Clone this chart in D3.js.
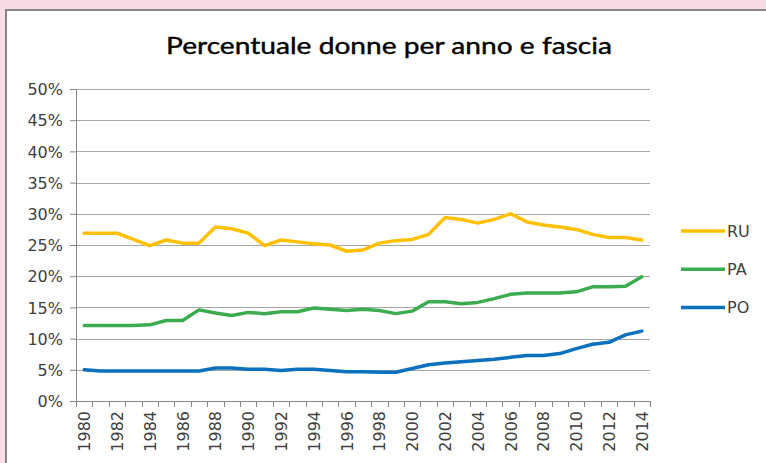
<!DOCTYPE html>
<html>
<head>
<meta charset="utf-8">
<script src="https://cdn.jsdelivr.net/npm/d3@7"></script>
<style>
  body { margin: 0; background: #fadce6; }
  svg { display: block; }
  .tick-label { font-family: "DejaVu Sans", Verdana, sans-serif; font-size: 15px; fill: #404040; }
</style>
</head>
<body>
<div id="chart"></div>
<script>
var years = d3.range(1980, 2015);
var tickYears = years.filter(function(y) { return y % 2 === 0; });
var yTicks = [0, 5, 10, 15, 20, 25, 30, 35, 40, 45, 50];

var seriesNames = ["RU", "PA", "PO"];
var seriesColors = ["#ffc000", "#3dab4f", "#0b70bd"];

var ru = [26.9, 26.9, 26.9, 25.9, 24.9, 25.8, 25.3, 25.3, 27.9, 27.6,
          26.9, 24.9, 25.8, 25.5, 25.2, 25.0, 24.0, 24.2, 25.3, 25.7,
          25.9, 26.7, 29.4, 29.1, 28.5, 29.1, 30.0, 28.7, 28.2, 27.9,
          27.5, 26.7, 26.2, 26.2, 25.8];
var pa = [12.1, 12.1, 12.1, 12.1, 12.2, 12.9, 12.9, 14.6, 14.1, 13.7,
          14.2, 14.0, 14.3, 14.3, 14.9, 14.7, 14.5, 14.7, 14.5, 14.0,
          14.4, 15.9, 15.9, 15.6, 15.8, 16.4, 17.1, 17.3, 17.3, 17.3,
          17.5, 18.3, 18.3, 18.4, 19.9];
var po = [5.0, 4.8, 4.8, 4.8, 4.8, 4.8, 4.8, 4.8, 5.3, 5.3,
          5.1, 5.1, 4.9, 5.1, 5.1, 4.9, 4.7, 4.7, 4.6, 4.6,
          5.2, 5.8, 6.1, 6.3, 6.5, 6.7, 7.0, 7.3, 7.3, 7.6,
          8.4, 9.1, 9.4, 10.6, 11.2];
var seriesValues = [ru, pa, po];

var width = 766, height = 463;
var margins = { top: 89, right: 116, bottom: 62, left: 76 };

var svg = d3.select("#chart").append("svg")
  .attr("width", width)
  .attr("height", height);

// chart frame (pink page behind, white chart area with gray border on top/left)
svg.append("rect").attr("x", 0).attr("y", 0).attr("width", width).attr("height", height).attr("fill", "#fadce6");
svg.append("rect").attr("x", 6).attr("y", 10).attr("width", width).attr("height", height)
  .attr("fill", "#fff").attr("stroke", "#868686").attr("stroke-width", 2);

svg.append("text")
  .attr("x", 389)
  .attr("y", 54)
  .attr("text-anchor", "middle")
  .attr("textLength", 446)
  .attr("lengthAdjust", "spacingAndGlyphs")
  .style("font-family", "Lato, 'Open Sans', sans-serif")
  .style("font-size", "24px")
  .style("font-weight", 400)
  .style("stroke", "#000")
  .style("stroke-width", 0.4)
  .style("fill", "#000")
  .text("Percentuale donne per anno e fascia");

var plotW = width - margins.left - margins.right;
var plotH = height - margins.top - margins.bottom;

var g = svg.append("g").attr("transform", "translate(" + margins.left + "," + margins.top + ")");

var x = d3.scaleBand().domain(years).range([0, plotW]);
var y = d3.scaleLinear().domain([0, 50]).range([plotH, 0]);

// gridlines
g.selectAll(".grid")
  .data(yTicks.filter(function(d) { return d > 0; }))
  .join("line")
  .attr("class", "grid")
  .attr("x1", 0).attr("x2", plotW)
  .attr("y1", function(d) { return Math.round(y(d)) + 0.5; })
  .attr("y2", function(d) { return Math.round(y(d)) + 0.5; })
  .attr("stroke", "#a6a6a6")
  .attr("stroke-width", 1);

// y axis
var yAxis = g.append("g")
  .call(d3.axisLeft(y).tickValues(yTicks).tickSize(6).tickPadding(7).tickFormat(function(d) { return d + "%"; }));
yAxis.select(".domain").attr("stroke", "#868686");
yAxis.selectAll(".tick line").attr("stroke", "#868686");
yAxis.selectAll("text").attr("class", "tick-label").attr("dy", "0.36em").style("font-size", "16px");

// x axis: ticks at category boundaries
var xAxisG = g.append("g").attr("transform", "translate(0," + plotH + ")");
xAxisG.append("line").attr("x1", 0).attr("x2", plotW).attr("y1", 0.5).attr("y2", 0.5).attr("stroke", "#868686");
xAxisG.selectAll(".xtick")
  .data(years.concat([2015]))
  .join("line")
  .attr("class", "xtick")
  .attr("x1", function(d, i) { return Math.round(i * x.step()) + 0.5; })
  .attr("x2", function(d, i) { return Math.round(i * x.step()) + 0.5; })
  .attr("y1", 0).attr("y2", 6)
  .attr("stroke", "#868686");
xAxisG.selectAll(".xlabel")
  .data(tickYears)
  .join("text")
  .attr("class", "tick-label")
  .attr("text-anchor", "end")
  .attr("transform", function(d) { return "translate(" + (x(d) + x.bandwidth() / 2 + 6) + ",10) rotate(-90)"; })
  .style("font-size", "16px")
  .text(function(d) { return d; });

// lines
var line = d3.line()
  .x(function(d, i) { return x(years[i]) + x.bandwidth() / 2; })
  .y(function(d) { return y(d); });

g.selectAll(".series")
  .data(seriesValues)
  .join("path")
  .attr("class", "series")
  .attr("d", line)
  .attr("fill", "none")
  .attr("stroke", function(d, i) { return seriesColors[i]; })
  .attr("stroke-width", 3.5)
  .attr("stroke-linejoin", "round")
  .attr("stroke-linecap", "round");

// legend
var legend = svg.append("g").attr("transform", "translate(681,231)");
var legendItems = legend.selectAll(".legend-item")
  .data(seriesNames)
  .join("g")
  .attr("transform", function(d, i) { return "translate(0," + (i * 38.3) + ")"; });
legendItems.append("line")
  .attr("x1", 0).attr("x2", 44).attr("y1", 0).attr("y2", 0)
  .attr("stroke", function(d, i) { return seriesColors[i]; })
  .attr("stroke-width", 3.5);
legendItems.append("text")
  .attr("class", "tick-label")
  .attr("x", 46)
  .attr("dy", "0.36em")
  .style("font-size", "16px")
  .text(function(d) { return d; });
</script>
</body>
</html>
